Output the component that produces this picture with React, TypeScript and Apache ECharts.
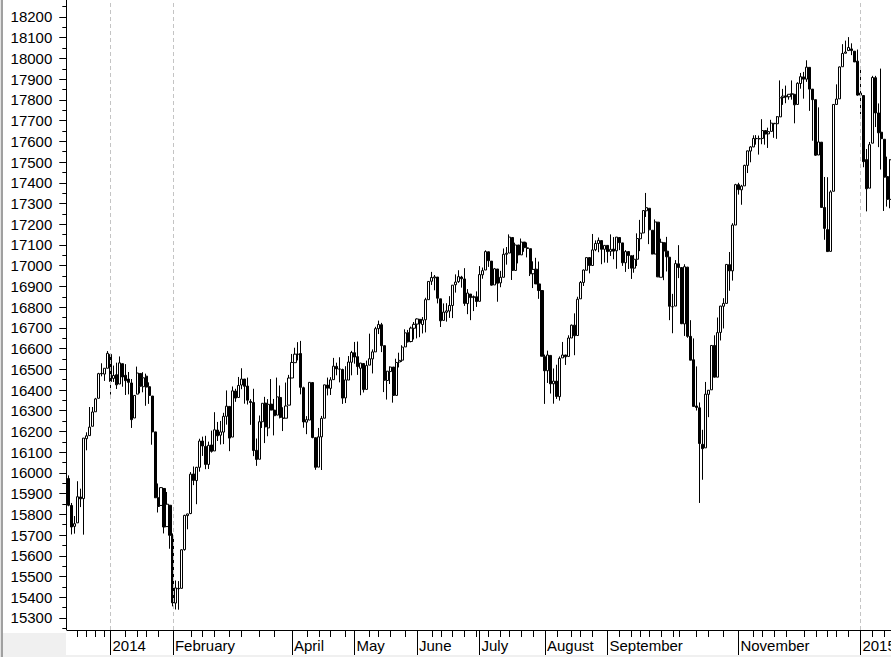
import React, { useEffect, useRef } from "react";
import * as echarts from "echarts";

// [day, open, high, low, close]
type Row = [number, number, number, number, number];

const dec2013: Row[] = [
  [11, 15973, 15988, 15839, 15844], [12, 15843, 15855, 15703, 15739], [13, 15742, 15792, 15707, 15755],
  [16, 15759, 15960, 15759, 15885], [17, 15884, 15924, 15835, 15875], [18, 15876, 16168, 15702, 16168],
  [19, 16165, 16196, 16109, 16179], [20, 16180, 16318, 16180, 16221], [23, 16225, 16318, 16225, 16294],
  [24, 16295, 16362, 16295, 16357], [26, 16360, 16483, 16360, 16479], [27, 16480, 16529, 16466, 16478],
  [30, 16477, 16505, 16444, 16505], [31, 16505, 16588, 16505, 16577],
];
const jan2014: Row[] = [
  [2, 16572, 16573, 16378, 16441], [3, 16456, 16518, 16439, 16470], [6, 16474, 16532, 16405, 16425],
  [7, 16429, 16562, 16429, 16531], [8, 16527, 16528, 16416, 16463], [9, 16471, 16525, 16376, 16445],
  [10, 16453, 16487, 16379, 16437], [13, 16434, 16453, 16217, 16257], [14, 16265, 16375, 16265, 16374],
  [15, 16380, 16513, 16380, 16482], [16, 16480, 16481, 16384, 16418], [17, 16416, 16486, 16389, 16459],
  [21, 16467, 16479, 16324, 16414], [22, 16416, 16437, 16333, 16374], [23, 16371, 16371, 16136, 16198],
  [24, 16198, 16198, 15879, 15880], [27, 15880, 15949, 15809, 15838], [28, 15843, 15932, 15843, 15929],
  [29, 15925, 15925, 15708, 15739], [30, 15741, 15908, 15741, 15849], [31, 15844, 15845, 15634, 15699],
];
const feb2014: Row[] = [
  [3, 15698, 15708, 15356, 15373], [4, 15372, 15481, 15341, 15445], [5, 15443, 15478, 15340, 15441],
  [6, 15443, 15632, 15443, 15629], [7, 15630, 15798, 15625, 15795], [10, 15794, 15803, 15728, 15802],
  [11, 15804, 16004, 15801, 15994], [12, 15995, 16031, 15941, 15964], [13, 15963, 16029, 15849, 16027],
  [14, 16027, 16165, 16006, 16154], [18, 16154, 16175, 16082, 16130], [19, 16128, 16179, 16018, 16041],
  [20, 16041, 16151, 16019, 16133], [21, 16135, 16204, 16098, 16104], [24, 16106, 16293, 16106, 16208],
  [25, 16207, 16246, 16154, 16179], [26, 16182, 16251, 16137, 16198], [27, 16197, 16290, 16139, 16273],
  [28, 16273, 16398, 16233, 16322],
];
const mar2014: Row[] = [
  [3, 16321, 16321, 16105, 16168], [4, 16173, 16417, 16173, 16396], [5, 16395, 16406, 16343, 16361],
  [6, 16364, 16463, 16364, 16422], [7, 16424, 16505, 16404, 16453], [10, 16453, 16453, 16334, 16418],
  [11, 16419, 16460, 16330, 16351], [12, 16345, 16356, 16232, 16340], [13, 16340, 16406, 16081, 16108],
  [14, 16109, 16166, 16034, 16065], [17, 16066, 16277, 16066, 16247], [18, 16247, 16336, 16217, 16336],
  [19, 16337, 16367, 16144, 16222], [20, 16217, 16356, 16177, 16331], [21, 16332, 16453, 16302, 16303],
  [24, 16303, 16357, 16181, 16276], [25, 16279, 16460, 16279, 16367], [26, 16364, 16422, 16263, 16268],
  [27, 16264, 16317, 16202, 16264], [28, 16264, 16436, 16264, 16323], [31, 16327, 16473, 16327, 16458],
];
const apr2014: Row[] = [
  [1, 16458, 16574, 16458, 16533], [2, 16532, 16604, 16532, 16573], [3, 16573, 16631, 16543, 16572],
  [4, 16576, 16637, 16379, 16413], [7, 16411, 16416, 16218, 16246], [8, 16245, 16274, 16187, 16257],
  [9, 16255, 16437, 16255, 16437], [10, 16436, 16436, 16167, 16171], [11, 16170, 16170, 16015, 16027],
  [14, 16028, 16217, 16028, 16174], [15, 16174, 16275, 16014, 16263], [16, 16264, 16424, 16264, 16425],
  [17, 16424, 16460, 16374, 16409], [21, 16408, 16462, 16376, 16449], [22, 16450, 16555, 16450, 16515],
  [23, 16514, 16532, 16471, 16502], [24, 16501, 16558, 16437, 16501], [25, 16499, 16503, 16333, 16361],
  [28, 16362, 16515, 16337, 16449], [29, 16448, 16564, 16448, 16535], [30, 16534, 16589, 16471, 16581],
];
const may2014: Row[] = [
  [1, 16580, 16632, 16527, 16559], [2, 16561, 16634, 16473, 16513], [5, 16505, 16531, 16375, 16530],
  [6, 16528, 16528, 16388, 16402], [7, 16403, 16542, 16403, 16518], [8, 16520, 16672, 16520, 16551],
  [9, 16550, 16596, 16480, 16584], [12, 16584, 16705, 16584, 16696], [13, 16696, 16735, 16670, 16716],
  [14, 16715, 16724, 16583, 16614], [15, 16614, 16614, 16390, 16447], [16, 16446, 16492, 16354, 16491],
  [19, 16489, 16514, 16429, 16511], [20, 16511, 16511, 16339, 16374], [21, 16374, 16551, 16374, 16533],
  [22, 16535, 16580, 16509, 16543], [23, 16544, 16616, 16536, 16607], [27, 16608, 16693, 16608, 16676],
  [28, 16676, 16690, 16629, 16633], [29, 16634, 16706, 16630, 16699], [30, 16698, 16728, 16644, 16717],
];
const jun2014: Row[] = [
  [2, 16718, 16746, 16649, 16743], [3, 16741, 16742, 16655, 16723], [4, 16716, 16752, 16673, 16738],
  [5, 16739, 16845, 16678, 16836], [6, 16836, 16924, 16836, 16924], [9, 16925, 16970, 16907, 16943],
  [10, 16941, 16955, 16881, 16946], [11, 16945, 16945, 16818, 16843], [12, 16840, 16840, 16704, 16734],
  [13, 16736, 16818, 16736, 16776], [16, 16775, 16819, 16730, 16782], [17, 16781, 16853, 16748, 16808],
  [18, 16808, 16906, 16747, 16906], [19, 16908, 16958, 16870, 16921], [20, 16923, 16978, 16917, 16947],
  [23, 16945, 16951, 16894, 16937], [24, 16936, 16988, 16806, 16818], [25, 16817, 16887, 16766, 16868],
  [26, 16863, 16863, 16737, 16846], [27, 16846, 16856, 16781, 16851], [30, 16850, 16876, 16801, 16827],
];
const jul2014: Row[] = [
  [1, 16828, 16998, 16828, 16957], [2, 16956, 16991, 16937, 16976], [3, 16979, 17074, 16979, 17068],
  [7, 17067, 17068, 16994, 17024], [8, 17022, 17022, 16904, 16906], [9, 16907, 16989, 16907, 16985],
  [10, 16984, 16984, 16826, 16915], [11, 16917, 16975, 16896, 16944], [14, 16944, 17083, 16944, 17055],
  [15, 17055, 17090, 17005, 17060], [16, 17061, 17151, 17061, 17138], [17, 17136, 17136, 16931, 16977],
  [18, 16977, 17111, 16977, 17100], [21, 17100, 17100, 17011, 17052], [22, 17052, 17131, 17052, 17114],
  [23, 17114, 17115, 17067, 17087], [24, 17086, 17112, 17040, 17083], [25, 17082, 17082, 16950, 16961],
  [28, 16961, 17021, 16892, 16982], [29, 16983, 17038, 16912, 16912], [30, 16912, 17020, 16840, 16880],
  [31, 16880, 16880, 16563, 16563],
];
const aug2014: Row[] = [
  [1, 16561, 16571, 16333, 16493], [4, 16493, 16590, 16434, 16569], [5, 16567, 16567, 16383, 16430],
  [6, 16430, 16504, 16334, 16443], [7, 16443, 16522, 16357, 16369], [8, 16368, 16562, 16349, 16553],
  [11, 16555, 16632, 16555, 16569], [12, 16569, 16570, 16521, 16560], [13, 16562, 16664, 16562, 16651],
  [14, 16651, 16716, 16651, 16713], [15, 16713, 16770, 16568, 16662], [18, 16663, 16850, 16663, 16838],
  [19, 16840, 16926, 16840, 16919], [20, 16919, 16982, 16902, 16979], [21, 16978, 17039, 16978, 17039],
  [22, 17039, 17039, 16963, 17001], [25, 17001, 17153, 17001, 17076], [26, 17077, 17122, 17070, 17107],
  [27, 17107, 17136, 17065, 17122], [28, 17121, 17121, 17007, 17079], [29, 17079, 17098, 17015, 17098],
];
const sep2014: Row[] = [
  [2, 17098, 17099, 17014, 17068], [3, 17069, 17151, 17047, 17079], [4, 17080, 17138, 17031, 17070],
  [5, 17072, 17138, 16985, 17138], [8, 17136, 17136, 17075, 17111], [9, 17110, 17110, 16999, 17014],
  [10, 17014, 17075, 16970, 17068], [11, 17068, 17069, 16984, 17049], [12, 17048, 17048, 16936, 16988],
  [15, 16988, 17052, 16966, 17031], [16, 17031, 17156, 16998, 17131], [17, 17130, 17221, 17070, 17157],
  [18, 17158, 17266, 17156, 17266], [19, 17265, 17351, 17235, 17280], [22, 17277, 17277, 17104, 17173],
  [23, 17171, 17171, 17055, 17056], [24, 17056, 17223, 17055, 17211], [25, 17210, 17210, 16945, 16946],
  [26, 16944, 17130, 16944, 17113], [29, 17111, 17111, 16930, 17071], [30, 17070, 17139, 16972, 17043],
];
const oct2014: Row[] = [
  [1, 17041, 17041, 16737, 16804], [2, 16802, 16864, 16674, 16802], [3, 16805, 17027, 16805, 17010],
  [6, 17009, 17099, 16940, 16991], [7, 16991, 16991, 16718, 16720], [8, 16719, 17007, 16661, 16995],
  [9, 16993, 16994, 16652, 16659], [10, 16659, 16737, 16544, 16544], [13, 16546, 16649, 16321, 16321],
  [14, 16323, 16514, 16301, 16316], [15, 16314, 16340, 15855, 16142], [16, 16138, 16208, 15967, 16117],
  [17, 16121, 16439, 16121, 16380], [20, 16379, 16399, 16269, 16399], [21, 16401, 16615, 16401, 16615],
  [22, 16615, 16664, 16461, 16462], [23, 16462, 16750, 16462, 16677], [24, 16678, 16806, 16639, 16805],
  [27, 16804, 16843, 16697, 16818], [28, 16818, 17006, 16818, 17006], [29, 17005, 17066, 16879, 16975],
  [30, 16975, 17205, 16928, 17196], [31, 17196, 17395, 17196, 17391],
];
const nov2014: Row[] = [
  [3, 17391, 17400, 17343, 17367], [4, 17366, 17390, 17294, 17384], [5, 17385, 17487, 17385, 17484],
  [6, 17484, 17555, 17447, 17554], [7, 17553, 17577, 17499, 17573], [10, 17573, 17629, 17572, 17614],
  [11, 17613, 17630, 17584, 17614], [12, 17612, 17628, 17536, 17613], [13, 17614, 17707, 17586, 17652],
  [14, 17652, 17652, 17584, 17635], [17, 17636, 17666, 17568, 17647], [18, 17648, 17704, 17648, 17688],
  [19, 17687, 17687, 17617, 17685], [20, 17685, 17722, 17612, 17719], [21, 17718, 17894, 17718, 17810],
  [24, 17811, 17853, 17776, 17818], [25, 17819, 17869, 17784, 17815], [26, 17815, 17827, 17801, 17827],
  [28, 17829, 17894, 17801, 17828],
];
const dec2014: Row[] = [
  [1, 17827, 17827, 17687, 17776], [2, 17778, 17885, 17778, 17880], [3, 17879, 17930, 17854, 17912],
  [4, 17911, 17935, 17806, 17900], [5, 17900, 17991, 17887, 17958], [8, 17957, 17957, 17747, 17852],
  [9, 17852, 17852, 17603, 17801], [10, 17801, 17801, 17530, 17533], [11, 17534, 17764, 17534, 17597],
  [12, 17596, 17596, 17281, 17281], [15, 17281, 17428, 17125, 17180], [16, 17174, 17427, 17068, 17068],
  [17, 17069, 17364, 17069, 17356], [18, 17359, 17778, 17359, 17778], [19, 17778, 17875, 17778, 17804],
  [22, 17805, 17961, 17805, 17959], [23, 17960, 18069, 17960, 18024], [24, 18025, 18086, 18025, 18031],
  [26, 18038, 18103, 18038, 18053], [29, 18046, 18073, 18016, 18038], [30, 18035, 18035, 17983, 17983],
  [31, 17987, 18043, 17820, 17823],
];
const jan2015: Row[] = [
  [2, 17823, 17951, 17731, 17833], [5, 17821, 17821, 17475, 17502], [6, 17512, 17563, 17262, 17371],
  [7, 17374, 17597, 17374, 17584], [8, 17591, 17916, 17591, 17908], [9, 17907, 17916, 17669, 17737],
  [12, 17737, 17783, 17572, 17641], [13, 17644, 17951, 17464, 17613], [14, 17610, 17610, 17264, 17427],
  [15, 17430, 17526, 17285, 17320], [16, 17320, 17514, 17277, 17511],
];

const months: [string, Row[]][] = [
  ["2013-12", dec2013], ["2014-01", jan2014], ["2014-02", feb2014], ["2014-03", mar2014],
  ["2014-04", apr2014], ["2014-05", may2014], ["2014-06", jun2014], ["2014-07", jul2014],
  ["2014-08", aug2014], ["2014-09", sep2014], ["2014-10", oct2014], ["2014-11", nov2014],
  ["2014-12", dec2014], ["2015-01", jan2015],
];

// trading days after the last visible candle (axis continues past the window)
const futureDates = ["2015-01-20", "2015-01-21", "2015-01-22", "2015-01-23", "2015-01-26"];

const monthLabels: [string, string][] = [
  ["2014-01-02", "2014"], ["2014-02-03", "February"], ["2014-04-01", "April"], ["2014-05-01", "May"],
  ["2014-06-02", "June"], ["2014-07-01", "July"], ["2014-08-01", "August"], ["2014-09-02", "September"],
  ["2014-11-03", "November"], ["2015-01-02", "2015"],
];

const dashedDates = ["2014-01-02", "2014-02-03", "2015-01-02"];

const minorTickDates = [
  "2013-12-16", "2013-12-19", "2013-12-24", "2013-12-30", "2014-01-09", "2014-01-15", "2014-01-21",
  "2014-01-27", "2014-02-11", "2014-02-18", "2014-02-24", "2014-03-03", "2014-03-07", "2014-03-17",
  "2014-03-24", "2014-04-08", "2014-04-14", "2014-04-21", "2014-04-28", "2014-05-08", "2014-05-13",
  "2014-05-19", "2014-05-27", "2014-06-09", "2014-06-12", "2014-06-18", "2014-06-24", "2014-06-30",
  "2014-07-07", "2014-07-11", "2014-07-16", "2014-07-22", "2014-07-28", "2014-08-07", "2014-08-14",
  "2014-08-19", "2014-08-25", "2014-09-08", "2014-09-12", "2014-09-17", "2014-09-22", "2014-09-26",
  "2014-10-02", "2014-10-06", "2014-10-14", "2014-10-20", "2014-10-27", "2014-11-10", "2014-11-13",
  "2014-11-19", "2014-11-25", "2014-12-04", "2014-12-10", "2014-12-16", "2014-12-19", "2014-12-26",
  "2015-01-08", "2015-01-14",
];

const yLabels = [
  15300, 15400, 15500, 15600, 15700, 15800, 15900, 16000, 16100, 16200, 16300, 16400, 16500, 16600, 16700,
  16800, 16900, 17000, 17100, 17200, 17300, 17400, 17500, 17600, 17700, 17800, 17900, 18000, 18100, 18200,
];
const yMinorTicks = [
  15250, 15350, 15450, 15550, 15650, 15750, 15850, 15950, 16050, 16150, 16250, 16350, 16450, 16550, 16650,
  16750, 16850, 16950, 17050, 17150, 17250, 17350, 17450, 17550, 17650, 17750, 17850, 17950, 18050, 18150,
  18250,
];

const Y_MIN = 15242;
const Y_MAX = 18282;
const FONT = "'Liberation Sans', Arial, Helvetica, sans-serif";

export default function App() {
  const ref = useRef<HTMLDivElement>(null);

  useEffect(() => {
    if (!ref.current) return;
    document.body.style.margin = "0";

    const pad = (n: number) => (n < 10 ? "0" + n : "" + n);
    const cats: string[] = [];
    const values: number[][] = [];
    months.forEach(([ym, rows]) => {
      rows.forEach(([d, o, h, l, c]) => {
        cats.push(`${ym}-${pad(d)}`);
        values.push([o, c, l, h]);
      });
    });
    futureDates.forEach((d) => cats.push(d));

    const labelMap: Record<string, string> = {};
    monthLabels.forEach(([d, t]) => (labelMap[d] = t));
    const minorSet = new Set(minorTickDates);

    const band = 2.976;
    const gridLeft = 67.3;

    const chart = echarts.init(ref.current, undefined, { renderer: "svg" });
    chart.setOption({
      animation: false,
      backgroundColor: "#ffffff",
      grid: { left: gridLeft, top: 0, width: cats.length * band, height: 630, containLabel: false },
      xAxis: [
        {
          type: "category",
          data: cats,
          boundaryGap: true,
          position: "bottom",
          axisLine: { show: true, onZero: false, lineStyle: { color: "#000", width: 1 } },
          axisTick: {
            show: true,
            alignWithLabel: true,
            length: 25,
            interval: (_i: number, v: string) => labelMap[v] !== undefined,
            lineStyle: { color: "#000", width: 1 },
          },
          axisLabel: {
            show: true,
            interval: (_i: number, v: string) => labelMap[v] !== undefined,
            formatter: (v: string) => labelMap[v] || "",
            align: "left",
            padding: [0, 0, 0, 2],
            margin: 8,
            color: "#000",
            fontSize: 15,
            fontFamily: FONT,
          },
          splitLine: { show: false },
        },
        {
          type: "category",
          data: cats,
          boundaryGap: true,
          position: "bottom",
          axisLine: { show: false },
          axisTick: {
            show: true,
            alignWithLabel: true,
            length: 7,
            interval: (_i: number, v: string) => minorSet.has(v),
            lineStyle: { color: "#000", width: 1 },
          },
          axisLabel: { show: false },
          splitLine: { show: false },
        },
      ],
      yAxis: [
        {
          type: "value",
          min: Y_MIN,
          max: Y_MAX,
          position: "left",
          offset: 1,
          axisLine: { show: true, lineStyle: { color: "#000", width: 1 } },
          axisTick: { show: true, length: 7, customValues: yLabels, lineStyle: { color: "#000", width: 1 } },
          axisLabel: {
            show: true,
            customValues: yLabels,
            formatter: (v: number) => String(Math.round(v)),
            color: "#000",
            fontSize: 15,
            fontFamily: FONT,
            margin: 14,
          },
          splitLine: { show: false },
        },
        {
          type: "value",
          min: Y_MIN,
          max: Y_MAX,
          position: "left",
          offset: 1,
          axisLine: { show: false },
          axisTick: { show: true, length: 4, customValues: yMinorTicks, lineStyle: { color: "#000", width: 1 } },
          axisLabel: { show: false },
          splitLine: { show: false },
        },
      ],
      graphic: [
        { type: "rect", z: -10, shape: { x: 0, y: 0, width: 1, height: 657 }, style: { fill: "#e2e2e2" } },
        { type: "rect", z: -10, shape: { x: 1, y: 0, width: 2, height: 657 }, style: { fill: "#a0a0a0" } },
        { type: "rect", z: -10, shape: { x: 3, y: 633, width: 63, height: 24 }, style: { fill: "#f0f0f0" } },
        { type: "rect", z: -10, shape: { x: 3, y: 655, width: 900, height: 2 }, style: { fill: "#f0f0f0" } },
      ],
      series: [
        {
          type: "candlestick",
          xAxisIndex: 0,
          yAxisIndex: 0,
          data: values,
          barWidth: 2.6,
          itemStyle: {
            color: "#ffffff",
            color0: "#000000",
            borderColor: "#000000",
            borderColor0: "#000000",
            borderColorDoji: "#000000",
            borderWidth: 1,
          },
          markLine: {
            silent: true,
            symbol: ["none", "none"],
            label: { show: false },
            lineStyle: { color: "#c4c4c4", type: [4, 3], width: 1 },
            data: dashedDates.map((d) => ({ xAxis: d })),
          },
        },
      ],
    });

    return () => chart.dispose();
  }, []);

  return (
    <div style={{ position: "absolute", left: 0, top: 0, width: 891, height: 657, overflow: "hidden", background: "#fff" }}>
      <div ref={ref} style={{ position: "absolute", left: 0, top: 0, width: 912, height: 657 }} />
    </div>
  );
}
